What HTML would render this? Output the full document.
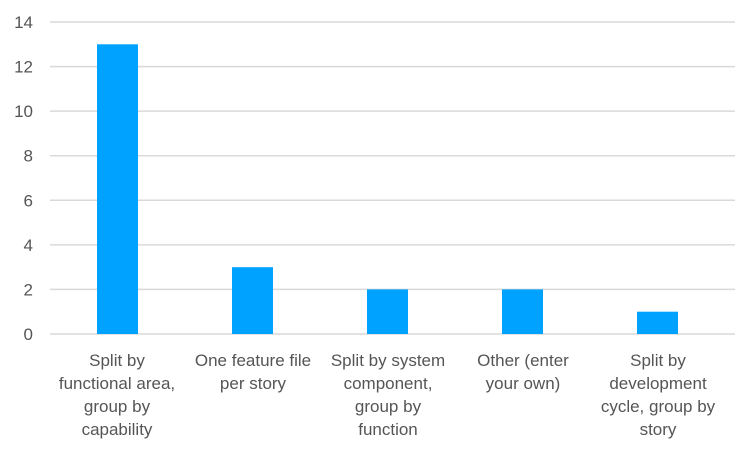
<!DOCTYPE html>
<html><head><style>
body{margin:0;background:#fff;}
svg text{font-family:"Liberation Sans",sans-serif;fill:#555;}
</style></head><body>
<svg width="747" height="447" xmlns="http://www.w3.org/2000/svg">
<g stroke="#d9d9d9" stroke-width="1.5">
<line x1="50" x2="735" y1="22" y2="22"/><line x1="50" x2="735" y1="66.6" y2="66.6"/>
<line x1="50" x2="735" y1="111.1" y2="111.1"/><line x1="50" x2="735" y1="155.7" y2="155.7"/>
<line x1="50" x2="735" y1="200.3" y2="200.3"/><line x1="50" x2="735" y1="244.9" y2="244.9"/>
<line x1="50" x2="735" y1="289.4" y2="289.4"/><line x1="50" x2="735" y1="334" y2="334"/>
</g>
<g font-size="17" text-anchor="end">
<text x="33" y="28">14</text><text x="33" y="72.6">12</text><text x="33" y="117">10</text>
<text x="33" y="161.7">8</text><text x="33" y="206.3">6</text><text x="33" y="250.9">4</text>
<text x="33" y="295.4">2</text><text x="33" y="340">0</text>
</g>
<g fill="#00a2ff">
<rect x="97" y="44.3" width="41" height="289.7"/>
<rect x="232" y="267.2" width="41" height="66.8"/>
<rect x="367" y="289.4" width="41" height="44.6"/>
<rect x="502" y="289.4" width="41" height="44.6"/>
<rect x="637" y="311.7" width="41" height="22.3"/>
</g>
<g font-size="17" text-anchor="middle">
<text x="117" y="366">Split by</text><text x="117" y="389">functional area,</text><text x="117" y="412">group by</text><text x="117" y="435">capability</text>
<text x="253" y="366">One feature file</text><text x="253" y="389">per story</text>
<text x="388" y="366">Split by system</text><text x="388" y="389">component,</text><text x="388" y="412">group by</text><text x="388" y="435">function</text>
<text x="523" y="366">Other (enter</text><text x="523" y="389">your own)</text>
<text x="658" y="366">Split by</text><text x="658" y="389">development</text><text x="658" y="412">cycle, group by</text><text x="658" y="435">story</text>
</g>
</svg>
</body></html>
